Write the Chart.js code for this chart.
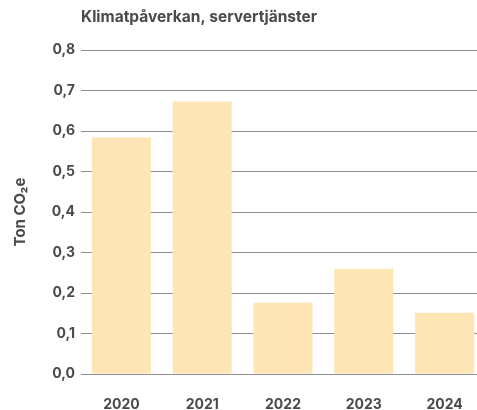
<!DOCTYPE html>
<html>
<head>
<meta charset="utf-8">
<script src="https://cdn.jsdelivr.net/npm/chart.js@4/dist/chart.umd.min.js"></script>
<style>
  html, body { margin: 0; padding: 0; background: #fff; overflow: hidden; }
  #wrap { position: relative; width: 486px; height: 410px; }
</style>
</head>
<body>
<div id="wrap"><canvas id="chart"></canvas></div>
<script>
// Data
const years = ['2020', '2021', '2022', '2023', '2024'];
const tonCO2e = [0.584, 0.673, 0.176, 0.26, 0.151];
const yTicks = [0, 0.1, 0.2, 0.3, 0.4, 0.5, 0.6, 0.7, 0.8];

const textColor = '#4a4a4a';
const fontFamily = 'Inter, "Noto Sans", sans-serif';

new Chart(document.getElementById('chart'), {
    type: 'bar',
    data: {
        labels: years,
        datasets: [{
            data: tonCO2e,
            backgroundColor: '#fee5b5',
            borderWidth: 0,
            barPercentage: 0.73,
            categoryPercentage: 1
        }]
    },
    options: {
        responsive: true,
        maintainAspectRatio: false,
        animation: false,
        layout: { padding: { left: 0, right: 1, top: 6, bottom: 0 } },
        plugins: {
            legend: { display: false },
            tooltip: { enabled: false },
            title: {
                display: true,
                text: 'Klimatpåverkan, servertjänster',
                align: 'start',
                fullSize: false,
                color: textColor,
                font: { family: fontFamily, size: 15.5, weight: 'bold' },
                padding: { top: 2, bottom: 23.4 }
            }
        },
        scales: {
            x: {
                afterFit: s => { s.height = 36; },
                grid: { display: false },
                border: { display: false },
                ticks: {
                    color: textColor,
                    font: { family: fontFamily, size: 14, weight: 'bold' },
                    padding: 14
                }
            },
            y: {
                min: 0,
                max: 0.8,
                afterFit: s => { s.width = 81; },
                afterBuildTicks: s => { s.ticks = yTicks.map(v => ({ value: v })); },
                grid: { color: '#8f8f8f', lineWidth: 1, drawTicks: false },
                border: { display: false },
                title: {
                    display: true,
                    text: 'Ton CO₂e',
                    color: textColor,
                    font: { family: fontFamily, size: 15, weight: 'bold' },
                    padding: { top: 11, bottom: 0 }
                },
                ticks: {
                    color: textColor,
                    font: { family: fontFamily, size: 14, weight: 'bold' },
                    padding: 6,
                    callback: v => v.toFixed(1).replace('.', ',')
                }
            }
        }
    }
});
</script>
</body>
</html>
